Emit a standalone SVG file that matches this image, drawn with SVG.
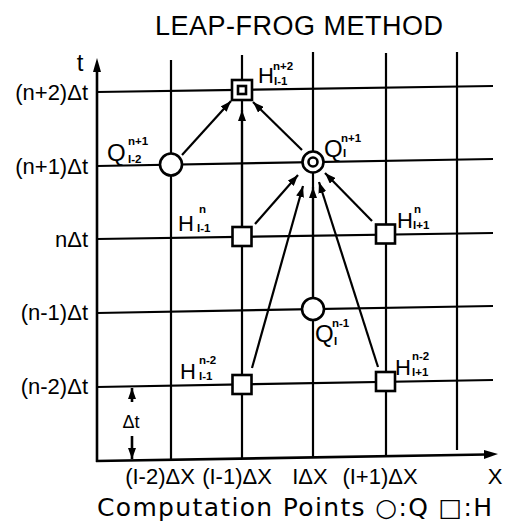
<svg xmlns="http://www.w3.org/2000/svg" width="508" height="530" viewBox="0 0 508 530">
<style>
.grid{stroke:#000;stroke-width:2.2;fill:none}
.axis{stroke:#000;stroke-width:2.6;fill:none}
.node{stroke:#000;stroke-width:2.6;fill:#fff}
.arr{stroke:#000;stroke-width:2.2;fill:none;marker-end:url(#ah)}
text{font-family:"Liberation Sans","DejaVu Sans",sans-serif;fill:#000}
.lab{font-size:22px}
.q{font-size:24px}
.ss{font-size:11.5px;font-weight:bold}
.cap{font-family:"DejaVu Sans",sans-serif;font-size:25px}
</style>
<defs>
<marker id="ah" markerUnits="userSpaceOnUse" markerWidth="12" markerHeight="8" refX="11" refY="4" orient="auto">
<path d="M0,0 L11,4 L0,8 z" fill="#000"/>
</marker>
</defs>
<rect width="508" height="530" fill="#fff"/>
<text x="299" y="35" font-size="27" text-anchor="middle" textLength="288" lengthAdjust="spacing">LEAP-FROG METHOD</text>
<g id="grid">
<line class="grid" x1="97" y1="92" x2="493" y2="86"/>
<line class="grid" x1="97" y1="166" x2="493" y2="159"/>
<line class="grid" x1="97" y1="239" x2="493" y2="233"/>
<line class="grid" x1="97" y1="313" x2="493" y2="306"/>
<line class="grid" x1="97" y1="387" x2="493" y2="380"/>
<line class="grid" x1="171" y1="60" x2="171" y2="460"/>
<line class="grid" x1="242" y1="55" x2="242" y2="459"/>
<line class="grid" x1="313" y1="52" x2="313" y2="458"/>
<line class="grid" x1="386" y1="53" x2="386" y2="457"/>
<line class="grid" x1="457" y1="52" x2="457" y2="450"/>
</g>
<g id="axes">
<line class="axis" x1="97" y1="462" x2="97" y2="70"/>
<path d="M93,72 L97,58 L101,72 z" fill="#000"/>
<line class="axis" x1="96" y1="461" x2="486" y2="454.5"/>
<path d="M484,450 L498,454 L484,459 z" fill="#000"/>
<text x="80" y="71" font-size="24" text-anchor="middle">t</text>
<text x="495" y="484" class="lab" text-anchor="middle">X</text>
</g>
<g id="tlabels">
<text x="88" y="100" class="lab" text-anchor="end">(n+2)Δt</text>
<text x="88" y="174" class="lab" text-anchor="end">(n+1)Δt</text>
<text x="88" y="247" class="lab" text-anchor="end">nΔt</text>
<text x="88" y="320" class="lab" text-anchor="end">(n-1)Δt</text>
<text x="88" y="394" class="lab" text-anchor="end">(n-2)Δt</text>
</g>
<g id="xlabels">
<text x="160" y="484" class="lab" text-anchor="middle">(I-2)ΔX</text>
<text x="237" y="484" class="lab" text-anchor="middle">(I-1)ΔX</text>
<text x="310" y="484" class="lab" text-anchor="middle">IΔX</text>
<text x="380" y="484" class="lab" text-anchor="middle">(I+1)ΔX</text>
</g>
<g id="dt">
<line x1="132" y1="402" x2="132" y2="388" class="axis" stroke-width="2" marker-end="url(#ah)"/>
<text x="131" y="428" font-size="18" text-anchor="middle">Δt</text>
<line x1="132" y1="436" x2="132" y2="459" class="axis" stroke-width="2" marker-end="url(#ah)"/>
</g>
<g id="connectors">
<line class="arr" x1="182" y1="155" x2="231" y2="101"/>
<line class="arr" x1="242" y1="226" x2="242" y2="110"/>
<line class="arr" x1="302" y1="150" x2="253" y2="102"/>
<line class="arr" x1="255" y1="224" x2="298" y2="175"/>
<line class="arr" x1="252" y1="368" x2="303" y2="186"/>
<line class="arr" x1="313" y1="298" x2="313" y2="187"/>
<line class="arr" x1="378" y1="367" x2="319" y2="182"/>
<line class="arr" x1="372" y1="221" x2="325" y2="173"/>
</g>
<g id="H_n2_Im1">
<rect class="node" x="232" y="80" width="20" height="20"/>
<rect class="node" x="238" y="86" width="8" height="8" stroke-width="2"/>
<text class="lab" x="258" y="83">H<tspan class="ss" x="273" y="70">n+2</tspan><tspan class="ss" x="274" y="84.5">I-1</tspan></text>
</g>
<g id="Q_n1_Im2">
<circle class="node" cx="171" cy="164.5" r="11"/>
<text class="q" x="107" y="161">Q<tspan class="ss" x="128" y="145">n+1</tspan><tspan class="ss" x="128" y="163">I-2</tspan></text>
</g>
<g id="Q_n1_I">
<circle class="node" cx="313" cy="162" r="10.5"/>
<circle class="node" cx="313" cy="162" r="4.5" stroke-width="2"/>
<text class="q" x="324" y="157">Q<tspan class="ss" x="341" y="142">n+1</tspan><tspan class="ss" x="343" y="157">I</tspan></text>
</g>
<g id="H_n_Im1">
<rect class="node" x="232.5" y="227" width="19" height="19"/>
<text class="lab" x="178" y="231">H<tspan class="ss" x="199" y="213">n</tspan><tspan class="ss" x="197" y="232">I-1</tspan></text>
</g>
<g id="H_n_Ip1">
<rect class="node" x="376" y="224.5" width="19" height="19"/>
<text class="lab" x="397" y="228">H<tspan class="ss" x="414" y="213">n</tspan><tspan class="ss" x="413" y="229">I+1</tspan></text>
</g>
<g id="Q_nm1_I">
<circle class="node" cx="313" cy="309" r="11"/>
<text class="q" x="315" y="342">Q<tspan class="ss" x="332" y="327">n-1</tspan><tspan class="ss" x="334" y="345">I</tspan></text>
</g>
<g id="H_nm2_Im1">
<rect class="node" x="232.5" y="375" width="19" height="19"/>
<text class="lab" x="180" y="379">H<tspan class="ss" x="199" y="364">n-2</tspan><tspan class="ss" x="199" y="380">I-1</tspan></text>
</g>
<g id="H_nm2_Ip1">
<rect class="node" x="376" y="372" width="19" height="19"/>
<text class="lab" x="395" y="375">H<tspan class="ss" x="412" y="360">n-2</tspan><tspan class="ss" x="412" y="376">I+1</tspan></text>
</g>
<text class="cap" x="97" y="516" textLength="395" lengthAdjust="spacing">Computation Points ○:Q □:H</text>
</svg>
